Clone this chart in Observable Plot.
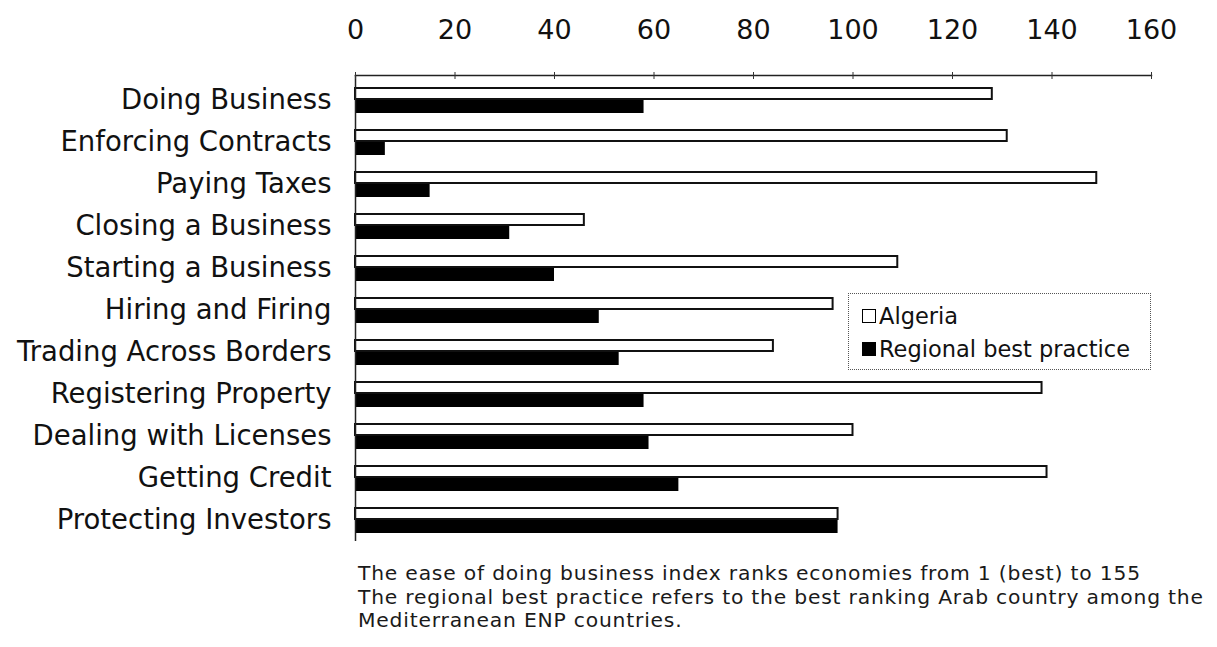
<!DOCTYPE html>
<html>
<head>
<meta charset="utf-8">
<script src="https://cdn.jsdelivr.net/npm/d3@7"></script>
<script src="https://cdn.jsdelivr.net/npm/@observablehq/plot@0.6"></script>
<style>
  html, body { margin: 0; padding: 0; background: #fff; }
  #wrap { position: relative; width: 1217px; height: 647px; overflow: hidden; font-family: "DejaVu Sans", sans-serif; color: #111; }
  #chart svg { display: block; }
  #legend { position: absolute; left: 848px; top: 293px; width: 303px; height: 77px; border: 1.5px dotted #555; box-sizing: border-box; background: #fff; font-size: 22.5px; }
  .item { position: absolute; left: 13px; display: flex; align-items: center; white-space: nowrap; }
  .sw { width: 14px; height: 14px; border: 1.5px solid #000; margin-right: 3px; box-sizing: border-box; }
  #note { position: absolute; left: 358px; top: 562px; font-size: 20.3px; letter-spacing: 0.8px; line-height: 23.5px; white-space: nowrap; color: #1a1a1a; }
</style>
</head>
<body>
<div id="wrap">
  <div id="chart"></div>
  <div id="legend"></div>
  <div id="note"></div>
</div>
<script>
const categories = [
  "Doing Business", "Enforcing Contracts", "Paying Taxes", "Closing a Business",
  "Starting a Business", "Hiring and Firing", "Trading Across Borders",
  "Registering Property", "Dealing with Licenses", "Getting Credit", "Protecting Investors"
];
const algeria = [128, 131, 149, 46, 109, 96, 84, 138, 100, 139, 97];
const regionalBest = [58, 6, 15, 31, 40, 49, 53, 58, 59, 65, 97];
const seriesNames = ["Algeria", "Regional best practice"];
const xTicks = [0, 20, 40, 60, 80, 100, 120, 140, 160];
const noteLines = [
  "The ease of doing business index ranks economies from 1 (best) to 155",
  "The regional best practice refers to the best ranking Arab country among the",
  "Mediterranean ENP countries."
];

const algData = categories.map((c, i) => ({category: c, value: algeria[i]}));
const regData = categories.map((c, i) => ({category: c, value: regionalBest[i]}));

const chart = Plot.plot({
  width: 1217,
  height: 546,
  marginLeft: 355,
  marginRight: 66,
  marginTop: 75,
  marginBottom: 5,
  style: {fontFamily: "DejaVu Sans, sans-serif", color: "#111", background: "#fff"},
  x: {domain: [0, 160], axis: null, label: null},
  y: {domain: categories, padding: 0, insetTop: 4, axis: null, label: null},
  marks: [
    Plot.barX(algData, {x: "value", y: "category", fill: "#fff", stroke: "#111", strokeWidth: 2, insetTop: 9, insetBottom: 22}),
    Plot.barX(regData, {x: "value", y: "category", fill: "#000", insetTop: 21, insetBottom: 8}),
    Plot.ruleX([0], {stroke: "#222", strokeWidth: 1.5}),
    Plot.frame({anchor: "top", stroke: "#222", strokeWidth: 1.5}),
    Plot.axisX(xTicks, {anchor: "top", label: null, tickSize: 4, tickPadding: 33, fontSize: 27, stroke: "#333", fill: "#111"}),
    Plot.axisX(xTicks, {anchor: "top", label: null, tickSize: -3, text: null, stroke: "#333"}),
    Plot.axisY({anchor: "left", label: null, tickSize: 0, tickPadding: 24, fontSize: 27.5, fill: "#111"})
  ]
});
document.getElementById("chart").appendChild(chart);

// legend
const legend = document.getElementById("legend");
const fills = ["#fff", "#000"];
const tops = [9, 42];
seriesNames.forEach((name, i) => {
  const item = document.createElement("div");
  item.className = "item";
  item.style.top = tops[i] + "px";
  const sw = document.createElement("div");
  sw.className = "sw";
  sw.style.background = fills[i];
  item.appendChild(sw);
  const t = document.createElement("span");
  t.textContent = name;
  item.appendChild(t);
  legend.appendChild(item);
});

// note
const note = document.getElementById("note");
noteLines.forEach(line => {
  const d = document.createElement("div");
  d.textContent = line;
  note.appendChild(d);
});
</script>
</body>
</html>
